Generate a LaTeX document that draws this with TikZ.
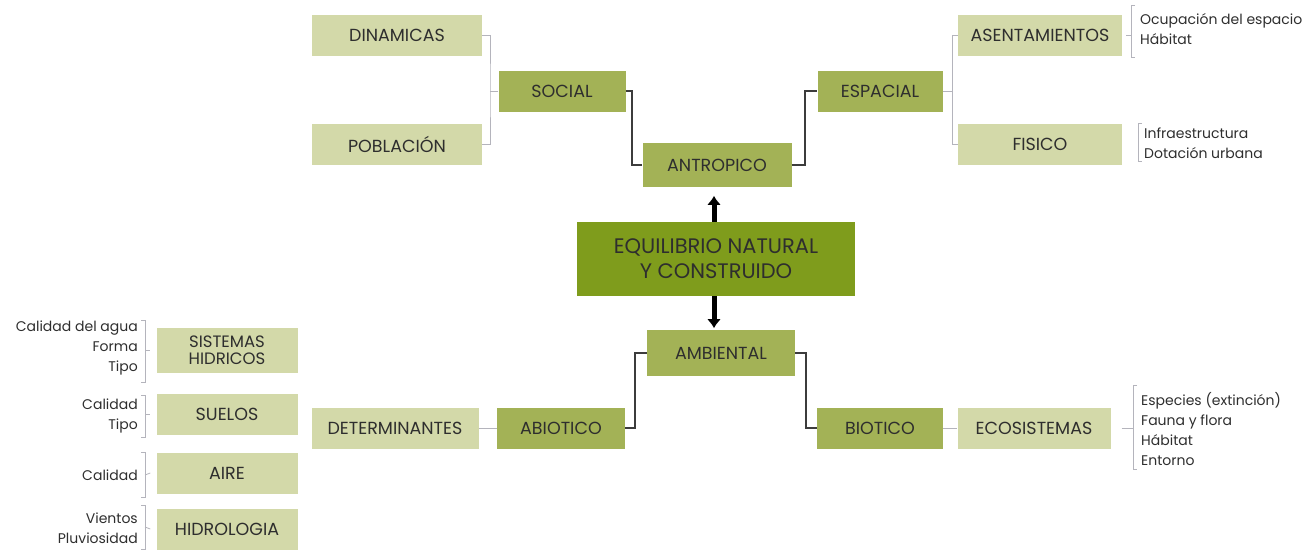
\documentclass[tikz,border=0pt]{standalone}
\usepackage{fontspec}
\setmainfont{Poppins}
\usetikzlibrary{arrows.meta}
\definecolor{BoxLight}{HTML}{D3D9A9}
\definecolor{BoxMid}{HTML}{A3B256}
\definecolor{BoxDark}{HTML}{7F9C1C}
\definecolor{LineLight}{HTML}{B4B4BC}
\definecolor{LineDark}{HTML}{3C3C3C}
\definecolor{TextGray}{HTML}{2E2E2E}

\begin{document}
\begin{tikzpicture}[x=1pt, y=-1pt,
	every node/.style={text=TextGray, inner sep=0pt},
	boxtext/.style={font=\fontsize{17.5}{20}\selectfont},
	lightbox/.style={boxtext, fill=BoxLight, minimum height=41pt},
	midbox/.style={boxtext, fill=BoxMid, minimum height=41pt},
	darkbox/.style={font=\fontsize{21}{25}\selectfont, fill=BoxDark, minimum height=74pt, minimum width=278pt, align=center},
	note/.style={font=\fontsize{14}{20}\selectfont},
	thinline/.style={LineLight, line width=0.9pt},
	thickline/.style={LineDark, line width=1.4pt},
	brk/.style={LineLight, line width=0.8pt},
	bigarrow/.style={black, line width=5pt, -{Latex[length=9pt, width=14pt]}}]
	\useasboundingbox (0,0) rectangle (1314,549);
	
	% centre
	\node[darkbox] (equi) at (716,259) {EQUILIBRIO NATURAL\\ Y CONSTRUIDO};
	\node[midbox, minimum width=149pt, minimum height=44pt] (antro) at (717,165) {ANTROPICO};
	\node[midbox, minimum width=148pt, minimum height=46pt] (ambi) at (721,353) {AMBIENTAL};
	\draw[bigarrow] ([xshift=-2pt]equi.north) -- ++(0,-26);
	\draw[bigarrow] ([xshift=-2pt]equi.south) -- ++(0,32);
	
	% antropico, social side
	\node[midbox, minimum width=127pt] (social) at (562,91) {SOCIAL};
	\node[lightbox, minimum width=170pt] (dina) at (397,35) {DINAMICAS};
	\node[lightbox, minimum width=170pt] (pobla) at (397,144) {POBLACIÓN};
	\draw[thinline] (dina.east) -| (490,91) |- (pobla.east);
	\draw[thinline] (social.west) -- (490,91);
	\draw[thickline] (social.east) -| (632,165) -- (antro.west);
	
	% antropico, espacial side
	\node[midbox, minimum width=125pt] (espa) at (880,91) {ESPACIAL};
	\node[lightbox, minimum width=164pt] (asen) at (1040,35) {ASENTAMIENTOS};
	\node[lightbox, minimum width=164pt] (fisi) at (1040,144) {FISICO};
	\draw[thickline] (antro.east) -| (805,91) -- (espa.west);
	\draw[thinline] (asen.west) -| (952,91) |- (fisi.west);
	\draw[thinline] (espa.east) -- (952,91);
	
	\node[note, anchor=west, align=left] (asentxt) at (1140,29) {Ocupación del espacio\\ Hábitat};
	\draw[brk] (1135,5) -- (1131,5) -- (1131,57) -- (1135,57);
	\draw[brk] (asen.east) ++(4,0) -- (1131,35);
	\node[note, anchor=west, align=left] (fisitxt) at (1144,143) {Infraestructura\\ Dotación urbana};
	\draw[brk] (1142,123) -- (1138,123) -- (1138,161) -- (1142,161);
	
	% ambiental, abiotico side
	\node[midbox, minimum width=128pt] (abio) at (561,428) {ABIOTICO};
	\node[lightbox, minimum width=167pt] (deter) at (395,428) {DETERMINANTES};
	\draw[thickline] (ambi.west) -| (635,428) -- (abio.east);
	\draw[thinline] (deter.east) -- (abio.west);
	
	% ambiental, biotico side
	\node[midbox, minimum width=126pt] (bio) at (880,428) {BIOTICO};
	\node[lightbox, minimum width=153pt] (eco) at (1034,428) {ECOSISTEMAS};
	\draw[thickline] (ambi.east) -| (806,428) -- (bio.west);
	\draw[thinline] (bio.east) -- (eco.west);
	
	\node[note, anchor=west, align=left] (ecotxt) at (1141,429) {Especies (extinción)\\ Fauna y flora\\ Hábitat\\ Entorno};
	\draw[brk] (1137,385) -- (1133,385) -- (1133,469) -- (1137,469);
	\draw[brk] ([xshift=11pt]eco.east) -- (1133,428);
	
	% left column
	\node[lightbox, minimum width=141pt, minimum height=45pt, align=center, font=\fontsize{16.5}{17}\selectfont] (sist) at (227,350) {SISTEMAS\\ HIDRICOS};
	\node[lightbox, minimum width=141pt] (suel) at (227,414) {SUELOS};
	\node[lightbox, minimum width=141pt] (aire) at (227,473) {AIRE};
	\node[lightbox, minimum width=141pt] (hidro) at (227,529) {HIDROLOGIA};
	
	\node[note, anchor=east, align=right] (sisttxt) at (138,348) {Calidad del agua\\ Forma\\ Tipo};
	\draw[brk] (141,320) -- (145,320) -- (145,382) -- (141,382);
	\draw[brk] (145,350) -- ([xshift=-6pt]sist.west);
	\node[note, anchor=east, align=right] (sueltxt) at (138,416) {Calidad\\ Tipo};
	\draw[brk] (141,395) -- (145,395) -- (145,437) -- (141,437);
	\draw[brk] (145,414) -- ([xshift=-6pt]suel.west);
	\node[note, anchor=east, align=right] (airetxt) at (138,475) {Calidad};
	\draw[brk] (141,452) -- (145,452) -- (145,497) -- (141,497);
	\draw[brk] (145,475) -- ([xshift=-6pt]aire.west);
	\node[note, anchor=east, align=right] (hidrotxt) at (138,528) {Vientos\\ Pluviosidad};
	\draw[brk] (141,505) -- (145,505) -- (145,549) -- (141,549);
	\draw[brk] (145,527) -- ([xshift=-6pt]hidro.west);
\end{tikzpicture}
\end{document}
